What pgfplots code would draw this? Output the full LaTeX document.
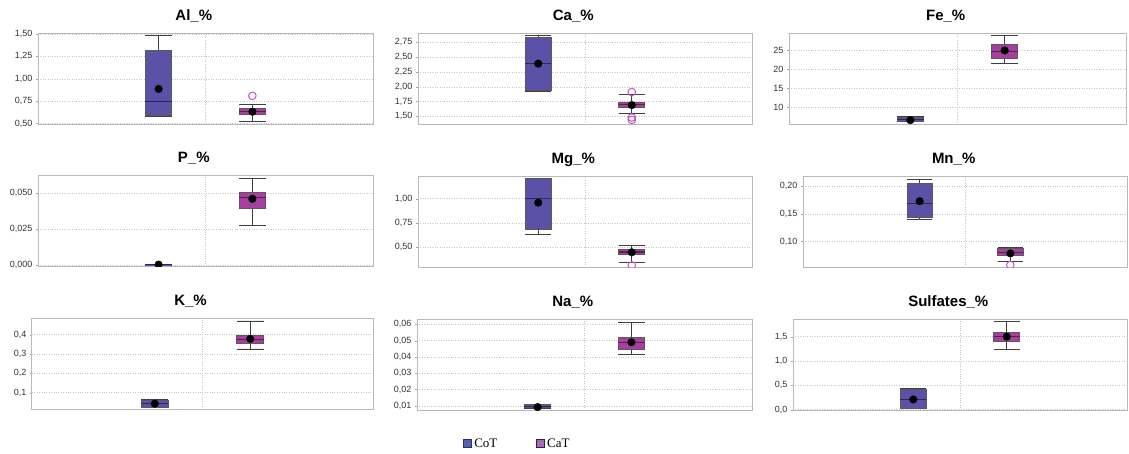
\documentclass[border=0pt]{standalone}
\usepackage{fontspec}
\setmainfont{Liberation Sans}
\newfontfamily\legfont{Liberation Serif}
\usepackage{pgfplots}
\pgfplotsset{compat=1.18}
\usepgfplotslibrary{statistics}

\definecolor{cotfill}{HTML}{5B51A6}
\definecolor{cotmed}{HTML}{2C2470}
\definecolor{catfill}{HTML}{A5409F}
\definecolor{catmed}{HTML}{5E1B5B}
\definecolor{outl}{HTML}{C555C0}
\definecolor{boxline}{HTML}{5A5A5A}
\definecolor{whisk}{HTML}{3F3F3F}
\definecolor{legcot}{HTML}{4F62B3}
\definecolor{legcotd}{HTML}{27306A}
\definecolor{legcat}{HTML}{A66BB5}
\definecolor{legcatd}{HTML}{3A1A4A}

\pgfplotsset{
  panel/.style={
    anchor=south west, scale only axis, height=91pt,
    xmin=-0.286, xmax=3.286, xtick={1.5}, xticklabels={},
    x tick style={draw=none},
    ytick pos=left, tick align=outside, major tick length=2pt,
    y tick style={gray!70},
    xmajorgrids, ymajorgrids,
    grid style={dotted, gray!45},
    axis line style={gray!55, line width=1pt},
    clip marker paths=true,
    scaled y ticks=false,
    boxplot/draw direction=y,
    /pgf/number format/assume math mode=true,
    yticklabel style={font=\fontsize{9}{10}\selectfont, text=black!80,
      /pgf/number format/.cd, fixed, fixed zerofill, use comma},
    title style={at={(0.465,1)}, anchor=base, yshift=7pt,
      font=\fontsize{15}{18}\selectfont\bfseries},
  },
  prec/.style={yticklabel style={/pgf/number format/precision=#1}},
}

% box: position, lower whisker, lower quartile, median, upper quartile, upper whisker, fill, median colour
\newcommand{\bbox}[8]{%
  \addplot[fill=#7, draw=boxline, line width=0.9pt,
    boxplot prepared={draw direction=y, draw position=#1, lower whisker=#2, lower quartile=#3,
      median=#4, upper quartile=#5, upper whisker=#6,
      box extend=0.28, whisker extend=0.28,
      every median/.style={draw=#8, line width=1.1pt},
      every whisker/.style={draw=whisk, line width=0.9pt},
      every box/.style={fill=#7, draw=boxline, line width=0.9pt}}]
    coordinates {};}
\newcommand{\cotbox}[5]{\bbox{1}{#1}{#2}{#3}{#4}{#5}{cotfill}{cotmed}}
\newcommand{\catbox}[5]{\bbox{2}{#1}{#2}{#3}{#4}{#5}{catfill}{catmed}}
\newcommand{\avg}[2]{\addplot[only marks, mark=*, mark size=3.8pt, black] coordinates {(#1,#2)};}
\newcommand{\outliers}[1]{\addplot[only marks, mark=o, mark size=3.8pt, outl, line width=1pt] coordinates {#1};}

\begin{document}
\begin{tikzpicture}
\path[use as bounding box] (0pt,0pt) rectangle (1129pt,-453pt);

% ---------- row 1 ----------
\begin{axis}[panel, at={(38pt,-124pt)}, width=335pt, title={Al\_\%},
  ymin=0.495, ymax=1.51, ytick={0.5,0.75,1,1.25,1.5}, prec=2]
  \cotbox{0.58}{0.59}{0.743}{1.316}{1.485}
  \avg{1}{0.886}
  \catbox{0.526}{0.60}{0.636}{0.673}{0.713}
  \avg{2}{0.632}
  \outliers{(2,0.809)}
\end{axis}

\begin{axis}[panel, at={(418pt,-124pt)}, width=334pt, title={Ca\_\%},
  ymin=1.371, ymax=2.907, ytick={1.5,1.75,2,2.25,2.5,2.75}, prec=2]
  \cotbox{1.92}{1.944}{2.388}{2.84}{2.87}
  \avg{1}{2.39}
  \catbox{1.545}{1.65}{1.70}{1.74}{1.868}
  \avg{2}{1.69}
  \outliers{(2,1.91) (2,1.48) (2,1.44)}
\end{axis}

\begin{axis}[panel, at={(789pt,-124pt)}, width=337pt, title={Fe\_\%},
  ymin=5.64, ymax=29.6, ytick={10,15,20,25}, prec=0,
  yticklabel style={/pgf/number format/fixed zerofill=false}]
  \cotbox{6.2}{6.3}{6.9}{7.45}{7.5}
  \avg{1}{6.65}
  \catbox{21.6}{23.0}{24.75}{26.5}{29.0}
  \avg{2}{25.0}
\end{axis}

% ---------- row 2 ----------
\begin{axis}[panel, at={(38pt,-266pt)}, width=335pt, title={P\_\%},
  ymin=-0.0007, ymax=0.0627, ytick={0,0.025,0.05}, prec=3]
  \cotbox{0}{0.0001}{0.0002}{0.0003}{0.0004}
  \avg{1}{0.0003}
  \catbox{0.0273}{0.0394}{0.0468}{0.0507}{0.0601}
  \avg{2}{0.0461}
\end{axis}

\begin{axis}[panel, at={(418pt,-267pt)}, width=334pt, title={Mg\_\%},
  ymin=0.298, ymax=1.233, ytick={0.5,0.75,1}, prec=2]
  \cotbox{0.636}{0.68}{1.0}{1.205}{1.205}
  \avg{1}{0.959}
  \catbox{0.349}{0.432}{0.452}{0.479}{0.52}
  \avg{2}{0.449}
  \outliers{(2,0.315)}
\end{axis}

\begin{axis}[panel, at={(803pt,-267pt)}, width=324pt, title={Mn\_\%},
  ymin=0.0542, ymax=0.2179, ytick={0.1,0.15,0.2}, prec=2]
  \cotbox{0.1393}{0.1429}{0.169}{0.2042}{0.2125}
  \avg{1}{0.1726}
  \catbox{0.0649}{0.0744}{0.0798}{0.0875}{0.0885}
  \avg{2}{0.0786}
  \outliers{(2,0.0577)}
\end{axis}

% ---------- row 3 ----------
\begin{axis}[panel, at={(32pt,-409pt)}, width=341pt, title={K\_\%},
  ymin=0.0155, ymax=0.486, ytick={0.1,0.2,0.3,0.4}, prec=1]
  \cotbox{0.024}{0.026}{0.043}{0.062}{0.064}
  \avg{1}{0.043}
  \catbox{0.326}{0.352}{0.374}{0.398}{0.4707}
  \avg{2}{0.378}
\end{axis}

\begin{axis}[panel, at={(417pt,-410pt)}, width=335pt, title={Na\_\%},
  ymin=0.0074, ymax=0.0633, ytick={0.01,0.02,0.03,0.04,0.05,0.06}, prec=2,
  legend style={at={(0.30,-0.37)}, anchor=center, draw=none, fill=none,
    font=\legfont\fontsize{13}{15}\selectfont, legend columns=2,
    /tikz/every even column/.append style={column sep=37pt}},
  legend cell align=left,
  legend image code/.code={\draw[#1] (0pt,-4pt) rectangle (8pt,4pt);}]
  \addlegendimage{fill=legcot, draw=legcotd, line width=0.8pt}
  \addlegendentry{CoT}
  \addlegendimage{fill=legcat, draw=legcatd, line width=0.8pt}
  \addlegendentry{CaT}
  \cotbox{0.0086}{0.0087}{0.0098}{0.0107}{0.0108}
  \avg{1}{0.0092}
  \catbox{0.0417}{0.0447}{0.0486}{0.0518}{0.0614}
  \avg{2}{0.049}
\end{axis}

\begin{axis}[panel, at={(793pt,-410pt)}, width=334pt, title={Sulfates\_\%},
  ymin=-0.007, ymax=1.863, ytick={0,0.5,1,1.5}, prec=1]
  \cotbox{0.02}{0.034}{0.205}{0.41}{0.43}
  \avg{1}{0.21}
  \catbox{1.233}{1.404}{1.507}{1.582}{1.808}
  \avg{2}{1.5}
\end{axis}
\end{tikzpicture}
\end{document}
